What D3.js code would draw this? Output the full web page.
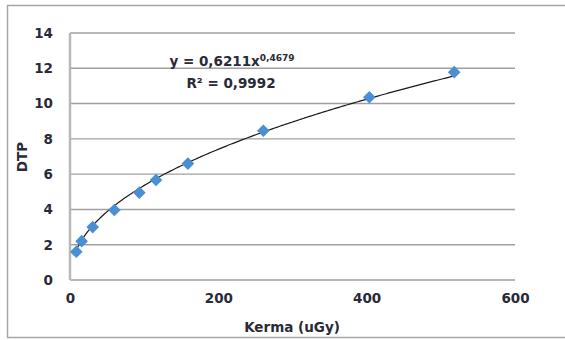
<!DOCTYPE html>
<html><head><meta charset="utf-8">
<script src="https://cdn.jsdelivr.net/npm/d3@7"></script>
<style>body{margin:0;background:#fff}svg{display:block}</style>
</head><body>
<script>
const kerma = [8.5, 15.7, 30.6, 59.8, 93.5, 116, 159, 260.7, 403.6, 518];
const dtp   = [1.6, 2.2, 3.0, 3.97, 4.95, 5.67, 6.6, 8.46, 10.36, 11.78];
const xTicks = [0, 200, 400, 600];
const yTicks = [0, 2, 4, 6, 8, 10, 12, 14];
const fitA = 0.6211, fitB = 0.4679;
const eqText = ["y = 0,6211x", "0,4679"];
const r2Text = "R² = 0,9992";
const xTitle = "Kerma (uGy)", yTitle = "DTP";

const W = 565, H = 340;
const svg = d3.select("body").append("svg").attr("width", W).attr("height", H);
const font = "'DejaVu Sans', sans-serif";
const fs = 13.5;
const txt = "#2a2a38";

svg.append("rect").attr("x", 7.5).attr("y", 5.5).attr("width", 570).attr("height", 332)
  .attr("fill", "#fff").attr("stroke", "#a6a6a6").attr("stroke-width", 1.5);

const x = d3.scaleLinear().domain([0, 600]).range([70, 515]);
const y = d3.scaleLinear().domain([0, 14]).range([280, 33]);

svg.append("g").selectAll("line").data(yTicks).join("line")
  .attr("x1", x(0)).attr("x2", x(600)).attr("y1", d => y(d)).attr("y2", d => y(d))
  .attr("stroke", "#a0a0a0").attr("stroke-width", 1.4);
svg.append("line").attr("x1", x(0)).attr("x2", x(0)).attr("y1", y(14)).attr("y2", y(0))
  .attr("stroke", "#b8b8b8").attr("stroke-width", 2.5);

const yAxis = d3.axisLeft(y).tickValues(yTicks).tickSize(0).tickPadding(17);
svg.append("g").attr("transform", `translate(${x(0)},0)`).call(yAxis)
  .call(g => g.select(".domain").remove())
  .selectAll("text").attr("font-family", font).attr("font-size", fs).attr("font-weight", "bold").attr("fill", txt);
const xAxis = d3.axisBottom(x).tickValues(xTicks).tickSize(0).tickPadding(13);
svg.append("g").attr("transform", `translate(0,${y(0)})`).call(xAxis)
  .call(g => g.select(".domain").remove())
  .selectAll("text").attr("font-family", font).attr("font-size", fs).attr("font-weight", "bold").attr("fill", txt);

const xs = d3.range(0, 201).map(i => kerma[0] + (kerma[kerma.length-1] - kerma[0]) * i / 200);
svg.append("path").datum(xs)
  .attr("d", d3.line().x(d => x(d)).y(d => y(fitA * Math.pow(d, fitB))))
  .attr("fill", "none").attr("stroke", "#1a1a1a").attr("stroke-width", 1.2);

svg.append("g").selectAll("path").data(kerma).join("path")
  .attr("transform", (d, i) => `translate(${x(d)},${y(dtp[i])}) rotate(45)`)
  .attr("d", d3.symbol().type(d3.symbolSquare).size(80))
  .attr("fill", "#4a8fd1");

const eq = svg.append("text").attr("x", 232).attr("y", 66).attr("text-anchor", "middle").attr("font-family", font)
  .attr("font-size", fs).attr("font-weight", "bold").attr("fill", txt);
eq.append("tspan").text(eqText[0]);
eq.append("tspan").attr("font-size", 9).attr("dy", -5).text(eqText[1]);
svg.append("text").attr("x", 231).attr("y", 88).attr("text-anchor", "middle")
  .attr("font-family", font).attr("font-size", fs).attr("font-weight", "bold").attr("fill", txt).text(r2Text);

svg.append("text").attr("x", 292).attr("y", 332).attr("text-anchor", "middle")
  .attr("font-family", font).attr("font-size", fs).attr("font-weight", "bold").attr("fill", txt).text(xTitle);
svg.append("text").attr("transform", "translate(27,157) rotate(-90)").attr("text-anchor", "middle")
  .attr("font-family", font).attr("font-size", fs).attr("font-weight", "bold").attr("fill", txt).text(yTitle);
</script>
</body></html>
